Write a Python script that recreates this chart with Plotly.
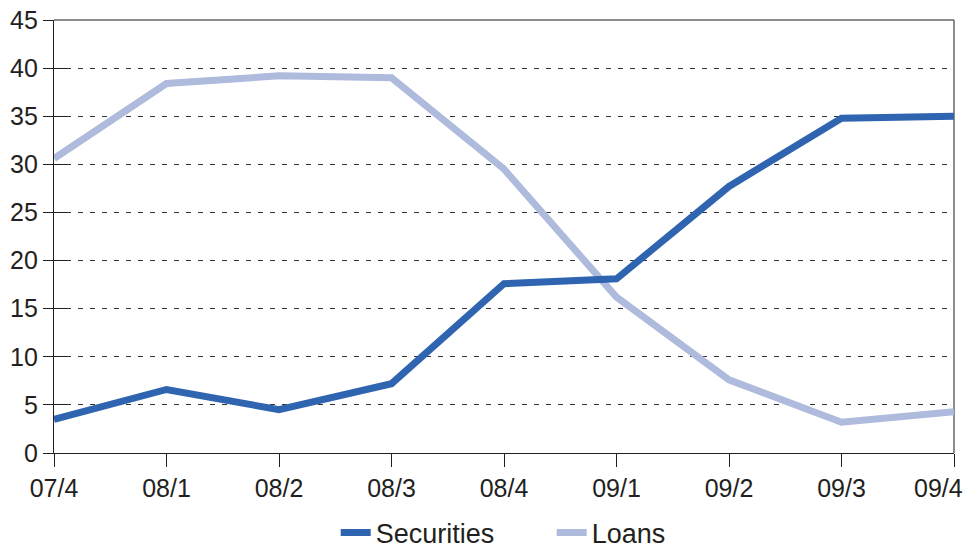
import plotly.graph_objects as go

quarters = ["07/4", "08/1", "08/2", "08/3", "08/4", "09/1", "09/2", "09/3", "09/4"]
securities = [3.5, 6.6, 4.5, 7.2, 17.6, 18.1, 27.7, 34.8, 35.0]
loans = [30.6, 38.4, 39.2, 39.0, 29.5, 16.2, 7.6, 3.2, 4.3]
y_ticks = [0, 5, 10, 15, 20, 25, 30, 35, 40, 45]

font_family = "Liberation Sans, Arial, sans-serif"
text_color = "#231f20"

# last category label is drawn as an annotation, nudged left so it stays inside the page
tick_text = quarters[:-1] + [""]

fig = go.Figure()
fig.add_trace(go.Scatter(
    x=quarters, y=loans, name="Loans", mode="lines",
    line=dict(color="#aebbdd", width=7), yaxis="y"))
fig.add_trace(go.Scatter(
    x=quarters, y=securities, name="Securities", mode="lines",
    line=dict(color="#2e64b0", width=7), yaxis="y2"))

fig.add_annotation(
    x=quarters[-1], xref="x", y=0, yref="y", text=quarters[-1], showarrow=False,
    xanchor="right", yanchor="middle", xshift=11, yshift=-35,
    font=dict(size=25, color=text_color, family=font_family))

fig.update_layout(
    width=967, height=548,
    margin=dict(l=54, r=13, t=20, b=95),
    paper_bgcolor="white", plot_bgcolor="white",
    font=dict(family=font_family, color=text_color, size=25),
    showlegend=True,
    legend=dict(orientation="h", x=0.553, xanchor="center",
                yref="container", y=0.0274, yanchor="middle",
                font=dict(size=27), traceorder="reversed", itemwidth=30,
                entrywidthmode="pixels", entrywidth=171),
    xaxis=dict(
        type="category", range=[0, 8], showgrid=False, zeroline=False,
        showline=True, linecolor="#231f20", linewidth=1.3, automargin=False,
        tickvals=quarters, ticktext=tick_text,
        ticks="outside", ticklen=13, tickcolor="#231f20", tickwidth=1.3,
        tickfont=dict(size=25), ticklabelstandoff=0),
    yaxis=dict(
        range=[0, 45], tickvals=y_ticks, showgrid=True, gridcolor="#333333",
        gridwidth=1, griddash="5px,7px", zeroline=False, automargin=False,
        showline=True, linecolor="#231f20", linewidth=1.3,
        ticks="outside", ticklen=10, tickcolor="#231f20", tickwidth=1.3,
        tickfont=dict(size=25), ticklabeloverflow="allow"),
    yaxis2=dict(
        range=[0, 45], tickvals=y_ticks, overlaying="y", side="left",
        showgrid=False, zeroline=False, showline=False, automargin=False,
        ticks="inside", ticklen=13, tickcolor="#231f20", tickwidth=1.3,
        showticklabels=False),
    shapes=[
        dict(type="line", xref="paper", yref="paper", x0=0, x1=1, y0=1, y1=1,
             line=dict(color="#666666", width=1.5), layer="below"),
        dict(type="line", xref="paper", yref="paper", x0=1, x1=1, y0=0, y1=1,
             line=dict(color="#666666", width=1.5), layer="below"),
    ],
)

fig.write_html(
    "out.html",
    config={"displayModeBar": False},
    post_script="document.body.style.margin='0';document.body.style.overflow='hidden';")
